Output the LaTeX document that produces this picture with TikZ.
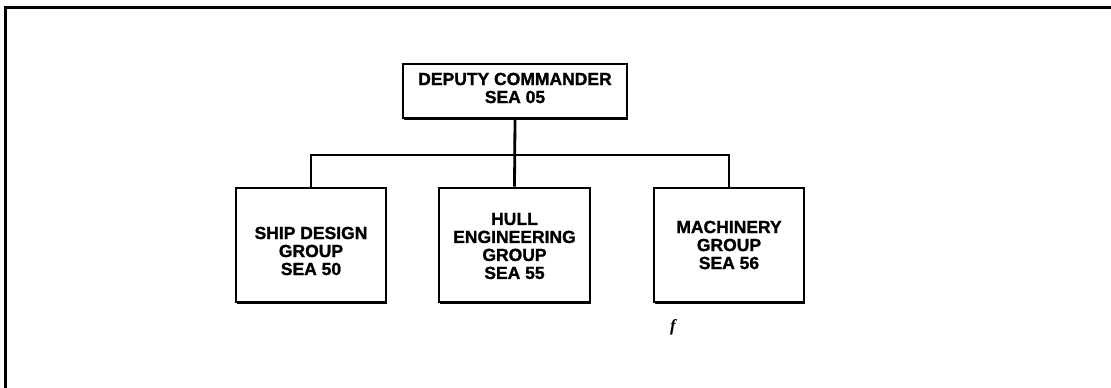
\documentclass[tikz,border=0pt]{standalone}
\usepackage{fontspec}
\setmainfont{Liberation Sans}[BoldFeatures={FakeBold=1.3}]
\newfontfamily\markfont{Liberation Serif}
\usetikzlibrary{shadows}
\begin{document}
\begin{tikzpicture}[x=1pt,y=-1pt,
  orgbox/.style={draw,line width=2.8pt,fill=white,inner sep=0pt,
    drop shadow={shadow xshift=1.4pt,shadow yshift=-1.6pt,opacity=1,fill=black}},
  lbl/.style={font=\bfseries\fontsize{17.5}{18}\selectfont,align=center,inner sep=0pt},
  conn/.style={line width=2.8pt},
  frame/.style={line width=3pt}]
\useasboundingbox (0,0) rectangle (1111,388);
% outer frame
\coordinate (ftr) at (1111,7);
\coordinate (ftl) at (5,7);
\coordinate (fbl) at (5,388);
\draw[frame] (ftr) -- (ftl) -- (fbl);
% boxes
\node[orgbox,minimum width=224pt,minimum height=54pt] (dc) at (515,91) {};
\node[orgbox,minimum width=150pt,minimum height=114pt] (sd) at (311,245) {};
\node[orgbox,minimum width=151pt,minimum height=114pt] (hu) at (514.5,245) {};
\node[orgbox,minimum width=150pt,minimum height=114pt] (ma) at (729,245) {};
% labels
\node[lbl] (dct) at (515,88) {DEPUTY COMMANDER\\SEA 05};
\node[lbl] (sdt) at (311,251) {SHIP DESIGN\\GROUP\\SEA 50};
\node[lbl] (hut) at (514.5,246) {HULL\\ENGINEERING\\GROUP\\SEA 55};
\node[lbl] (mat) at (729,245) {MACHINERY\\GROUP\\SEA 56};
% connectors
\coordinate (bus) at (515,155);
\draw[conn] (dc.south) -- (hu.north);
\draw[conn] (sd.north) |- (bus) -| (ma.north);
% stray mark
\node[font=\markfont\itshape\bfseries\fontsize{17}{17}\selectfont,inner sep=0pt] (fm) at (673,327) {f};
\end{tikzpicture}
\end{document}
